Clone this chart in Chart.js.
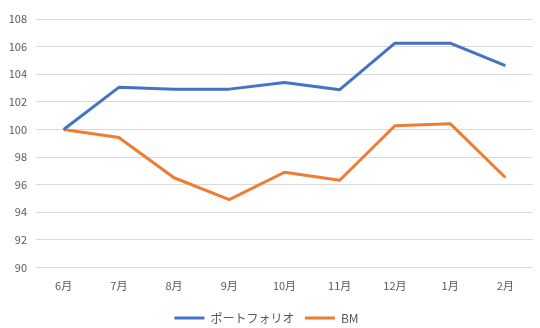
<!DOCTYPE html>
<html>
<head>
<meta charset="utf-8">
<script src="https://cdn.jsdelivr.net/npm/chart.js@4/dist/chart.umd.min.js"></script>
<style>
  html, body { margin: 0; padding: 0; background: #fff; }
  #wrap { width: 540px; height: 328px; position: relative; }
</style>
</head>
<body>
<div id="wrap"><canvas id="c" width="540" height="328"></canvas></div>
<script>
// Monthly index values (start = 100)
const months = ["6月", "7月", "8月", "9月", "10月", "11月", "12月", "1月", "2月"];
const portfolio = [100, 103.05, 102.92, 102.92, 103.4, 102.88, 106.25, 106.25, 104.62];
const benchmark = [100, 99.42, 96.5, 94.92, 96.9, 96.32, 100.27, 100.42, 96.52];
const seriesNames = ["ポートフォリオ", "BM"];
const yMin = 90, yMax = 108, yStep = 2;

const FONT = '"Noto Sans CJK JP", "Noto Sans", sans-serif';
const TICK_COLOR = '#595959';

new Chart(document.getElementById('c'), {
  type: 'line',
  data: {
    labels: months,
    datasets: [
      { label: seriesNames[0], data: portfolio, borderColor: '#4472C4', backgroundColor: '#4472C4',
        borderWidth: 3, pointRadius: 0, tension: 0, borderJoinStyle: 'round' },
      { label: seriesNames[1], data: benchmark, borderColor: '#ED7D31', backgroundColor: '#ED7D31',
        borderWidth: 3, pointRadius: 0, tension: 0, borderJoinStyle: 'round' }
    ]
  },
  options: {
    responsive: false,
    animation: false,
    devicePixelRatio: 1,
    layout: { padding: { top: 19, right: 7, left: 0, bottom: -6 } },
    scales: {
      x: {
        offset: true,
        grid: { display: false, drawTicks: false },
        border: { display: false },
        ticks: { color: TICK_COLOR, font: { family: FONT, size: 11 }, padding: 12, maxRotation: 0 },
        afterFit: (s) => { s.height = 34; }
      },
      y: {
        min: yMin, max: yMax,
        grid: { color: '#d9d9d9', lineWidth: 1, drawTicks: false },
        border: { display: false },
        ticks: { stepSize: yStep, color: TICK_COLOR, font: { family: FONT, size: 11 }, padding: 9 },
        afterFit: (s) => { s.width = 36; }
      }
    },
    plugins: {
      legend: {
        position: 'bottom',
        labels: {
          color: TICK_COLOR,
          font: { family: FONT, size: 12 },
          boxWidth: 30, boxHeight: 3,
          padding: 10.5,
          generateLabels: (chart) => chart.data.datasets.map((d, i) => ({
            text: d.label, fillStyle: d.borderColor, strokeStyle: d.borderColor,
            lineWidth: 0, hidden: false, datasetIndex: i, fontColor: TICK_COLOR
          }))
        }
      },
      tooltip: { enabled: false }
    }
  }
});
</script>
</body>
</html>
